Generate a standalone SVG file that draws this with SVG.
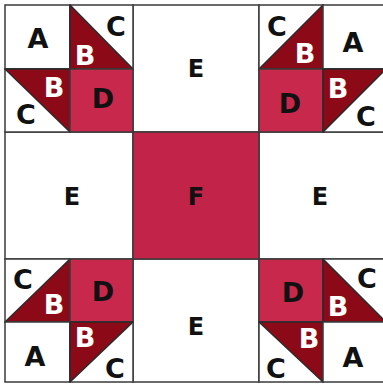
<svg xmlns="http://www.w3.org/2000/svg" width="383" height="385" viewBox="0 0 383 385">
<style>
.bg{fill:#ffffff}
.w{fill:#ffffff;stroke:#3a3a3a;stroke-width:1.5}
.b{fill:#8c0a18;stroke:#2a2a2a;stroke-width:1.5;stroke-linejoin:round}
.d{fill:#c8284b;stroke:#3a3a3a;stroke-width:1.5}
.f{fill:#c22348;stroke:#3a3a3a;stroke-width:1.5}
.t{font-family:"DejaVu Sans","Liberation Sans",sans-serif;font-weight:bold;font-size:27px;text-anchor:middle}
.tk{fill:#111111}
.tw{fill:#ffffff}
.big{font-size:24px}
</style>
<rect class="bg" x="0" y="0" width="383" height="385"/>
<!-- large pieces -->
<g id="E-top"><rect class="w" x="133" y="5" width="126" height="127"/><text class="t tk big" x="196" y="77">E</text></g>
<g id="E-left"><rect class="w" x="5" y="132" width="128" height="127"/><text class="t tk big" x="72" y="205">E</text></g>
<g id="E-right"><rect class="w" x="259" y="132" width="130" height="127"/><text class="t tk big" x="320" y="205">E</text></g>
<g id="E-bottom"><rect class="w" x="133" y="259" width="126" height="123"/><text class="t tk big" x="196" y="335">E</text></g>
<g id="F-center"><rect class="f" x="133" y="132" width="126" height="127"/><text class="t tk big" x="196" y="205">F</text></g>
<!-- top-left corner -->
<g id="A-tl"><rect class="w" x="5" y="5" width="65" height="64"/><text class="t tk" x="38" y="48">A</text></g>
<g id="BC-tl-top"><rect class="w" x="70" y="5" width="63" height="64"/><polygon class="b" points="70,5 133,69 70,69"/><text class="t tk" x="116" y="36">C</text><text class="t tw" x="85" y="65">B</text></g>
<g id="BC-tl-left"><rect class="w" x="5" y="69" width="65" height="63"/><polygon class="b" points="5,69 70,69 70,132"/><text class="t tw" x="54" y="97">B</text><text class="t tk" x="26" y="124">C</text></g>
<g id="D-tl"><rect class="d" x="70" y="69" width="63" height="63"/><text class="t tk" x="103" y="108">D</text></g>
<!-- top-right corner -->
<g id="BC-tr-top"><rect class="w" x="259" y="5" width="64" height="64"/><polygon class="b" points="323,5 323,69 259,69"/><text class="t tk" x="277" y="36">C</text><text class="t tw" x="305" y="63">B</text></g>
<g id="A-tr"><rect class="w" x="323" y="5" width="66" height="64"/><text class="t tk" x="353" y="52">A</text></g>
<g id="D-tr"><rect class="d" x="259" y="69" width="64" height="63"/><text class="t tk" x="290" y="113">D</text></g>
<g id="BC-tr-right"><rect class="w" x="323" y="69" width="66" height="63"/><polygon class="b" points="323,69 386,69 323,132"/><text class="t tw" x="338" y="98">B</text><text class="t tk" x="366" y="126">C</text></g>
<!-- bottom-left corner -->
<g id="BC-bl-left"><rect class="w" x="5" y="259" width="65" height="63"/><polygon class="b" points="70,259 70,322 5,322"/><text class="t tk" x="23" y="289">C</text><text class="t tw" x="54" y="314">B</text></g>
<g id="D-bl"><rect class="d" x="70" y="259" width="63" height="63"/><text class="t tk" x="103" y="301">D</text></g>
<g id="A-bl"><rect class="w" x="5" y="322" width="65" height="60"/><text class="t tk" x="35" y="366">A</text></g>
<g id="BC-bl-bottom"><rect class="w" x="70" y="322" width="63" height="60"/><polygon class="b" points="70,322 133,322 70,382"/><text class="t tw" x="85" y="347">B</text><text class="t tk" x="115" y="378">C</text></g>
<!-- bottom-right corner -->
<g id="D-br"><rect class="d" x="259" y="259" width="64" height="63"/><text class="t tk" x="293" y="302">D</text></g>
<g id="BC-br-right"><rect class="w" x="323" y="259" width="66" height="63"/><polygon class="b" points="323,259 386,322 323,322"/><text class="t tk" x="367" y="288">C</text><text class="t tw" x="338" y="316">B</text></g>
<g id="BC-br-bottom"><rect class="w" x="259" y="322" width="64" height="60"/><polygon class="b" points="259,322 323,322 323,382"/><text class="t tw" x="309" y="348">B</text><text class="t tk" x="276" y="378">C</text></g>
<g id="A-br"><rect class="w" x="323" y="322" width="66" height="60"/><text class="t tk" x="353" y="367">A</text></g>
<g id="connectors"></g>
</svg>
